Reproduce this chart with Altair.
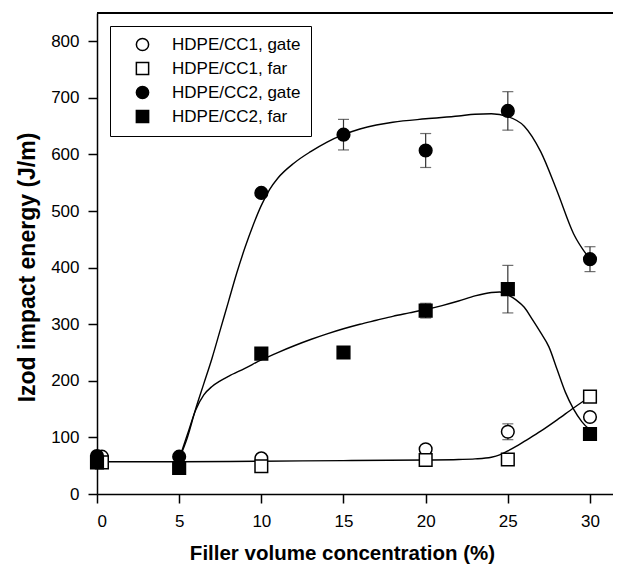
import altair as alt
import pandas as pd

# ---- data ----
series_names = ["HDPE/CC1, gate", "HDPE/CC1, far", "HDPE/CC2, gate", "HDPE/CC2, far"]

cc1_gate_x = [0.3, 10, 20, 25, 30]
cc1_gate_y = [66, 63, 79, 110, 136]
cc1_gate_err = [0, 0, 0, 14, 0]

cc1_far_x = [0.3, 10, 20, 25, 30]
cc1_far_y = [56, 49, 60, 61, 172]
cc1_far_err = [0, 0, 0, 0, 0]

cc2_gate_x = [0, 5, 10, 15, 20, 25, 30]
cc2_gate_y = [67, 66, 532, 635, 607, 677, 415]
cc2_gate_err = [0, 0, 0, 27, 30, 34, 22]

cc2_far_x = [0, 5, 10, 15, 20, 25, 30]
cc2_far_y = [56, 46, 248, 250, 324, 362, 106]
cc2_far_err = [0, 0, 0, 0, 13, 42, 10]

# fitted curves
fit_cc1_x = [0, 5, 10, 15, 20, 22, 23, 24, 24.5, 25, 25.5, 26, 27, 28, 29, 30]
fit_cc1_y = [57, 57, 58, 59, 60, 61, 62, 65, 69, 76, 84, 93, 111, 131, 152, 172]

fit_gate_x = [5, 5.5, 6, 6.5, 7, 7.5, 8, 8.5, 9, 9.5, 10, 10.5, 11, 12, 13, 14, 15, 16, 17,
              18, 20, 22, 23, 24, 25, 26, 27, 28, 29, 30]
fit_gate_y = [62, 100, 150, 195, 240, 290, 340, 390, 435, 475, 510, 538, 558, 585, 605, 622,
              635, 645, 652, 657, 663, 668, 671, 672, 667, 650, 605, 535, 460, 415]

fit_far_x = [5, 5.5, 6, 6.5, 7, 7.5, 8, 9, 10, 11, 12, 13, 14, 15, 16, 17, 18, 19, 20, 21,
             22, 23, 24, 24.5, 25, 25.5, 26, 26.5, 27, 27.5, 28, 28.5, 29, 29.5, 30]
fit_far_y = [62, 105, 148, 175, 190, 200, 208, 222, 237, 250, 262, 273, 283, 292, 300, 307,
             314, 320, 326, 333, 341, 350, 356, 357, 352, 343, 330, 308, 285, 260, 220, 180,
             150, 128, 113]

x_ticks = [0, 5, 10, 15, 20, 25, 30]
y_ticks = [0, 100, 200, 300, 400, 500, 600, 700, 800]

# ---- tables ----
rows = []
for name, xs, ys, es in [
    (series_names[0], cc1_gate_x, cc1_gate_y, cc1_gate_err),
    (series_names[1], cc1_far_x, cc1_far_y, cc1_far_err),
    (series_names[2], cc2_gate_x, cc2_gate_y, cc2_gate_err),
    (series_names[3], cc2_far_x, cc2_far_y, cc2_far_err),
]:
    for x, y, e in zip(xs, ys, es):
        rows.append({"series": name, "x": x, "y": y, "lo": y - e, "hi": y + e, "err": e})
pts = pd.DataFrame(rows)
pts["order"] = range(len(pts))
errs = pts[pts["err"] > 0]

fit_rows = []
for cname, xs, ys in [("cc1", fit_cc1_x, fit_cc1_y), ("gate", fit_gate_x, fit_gate_y),
                      ("far", fit_far_x, fit_far_y)]:
    for x, y in zip(xs, ys):
        fit_rows.append({"curve": cname, "x": x, "y": y})
fits = pd.DataFrame(fit_rows)

FONT = "Liberation Sans"

xscale = alt.Scale(domain=[0, 31.4], nice=False, zero=False)
yscale = alt.Scale(domain=[0, 850], nice=False)

x_axis = alt.Axis(
    values=x_ticks, title="Filler volume concentration (%)", grid=False,
    tickSize=9, labelPadding=10, labelFontSize=17, labelFont=FONT, labelColor="black",
    domainColor="black", domainWidth=1.5, tickColor="black", tickWidth=1.5,
    titleFont=FONT, titleFontSize=20.5, titleFontWeight="bold", titleColor="black",
    titleX=245, titleY=65, titleBaseline="alphabetic", titleAnchor="middle",
)
y_axis = alt.Axis(
    values=y_ticks, title="Izod impact energy (J/m)", grid=False,
    tickSize=9, labelPadding=9, labelFontSize=17, labelFont=FONT, labelColor="black",
    domainColor="black", domainWidth=1.5, tickColor="black", tickWidth=1.5,
    titleFont=FONT, titleFontSize=23, titleFontWeight="bold", titleColor="black",
    titleX=-63, titleY=254, titleBaseline="alphabetic", titleAnchor="middle", titleAngle=-90,
)

X = alt.X("x:Q", scale=xscale, axis=x_axis)
Y = alt.Y("y:Q", scale=yscale, axis=y_axis)

curves = alt.Chart(fits).mark_line(
    interpolate="monotone", color="black", strokeWidth=1.4
).encode(x=X, y=Y, detail="curve:N")

err_rule = alt.Chart(errs).mark_rule(color="#333333", strokeWidth=1.2).encode(
    x=alt.X("x:Q", scale=xscale), y=alt.Y("lo:Q", scale=yscale), y2="hi:Q"
)
cap_lo = alt.Chart(errs).mark_tick(orient="horizontal", size=11, thickness=1.2, color="#333333").encode(
    x=alt.X("x:Q", scale=xscale), y=alt.Y("lo:Q", scale=yscale)
)
cap_hi = alt.Chart(errs).mark_tick(orient="horizontal", size=11, thickness=1.2, color="#333333").encode(
    x=alt.X("x:Q", scale=xscale), y=alt.Y("hi:Q", scale=yscale)
)

legend = alt.Legend(
    title=None, orient="none", legendX=13, legendY=13,
    strokeColor="black", fillColor="white", padding=10,
    symbolStrokeWidth=1.5, symbolSize=150,
    labelFont=FONT, labelFontSize=17, labelColor="black",
    rowPadding=5, symbolOffset=14, labelOffset=21,
)

points = alt.Chart(pts).mark_point(
    strokeWidth=1.5, opacity=1, fillOpacity=1, size=160
).encode(
    x=X, y=Y,
    shape=alt.Shape("series:N", scale=alt.Scale(domain=series_names,
                    range=["circle", "square", "circle", "square"]), legend=legend),
    fill=alt.Fill("series:N", scale=alt.Scale(domain=series_names,
                  range=["white", "white", "black", "black"]), legend=legend),
    stroke=alt.Stroke("series:N", scale=alt.Scale(domain=series_names,
                      range=["black", "black", "black", "black"]), legend=legend),
    order="order:Q",
)

top_frame = alt.Chart(pts).mark_rule(color="black", strokeWidth=1.5).encode(y=alt.value(0))

chart = alt.layer(top_frame, curves, err_rule, cap_lo, cap_hi, points).properties(
    width=516, height=481,
    autosize=alt.AutoSizeParams(type="none"),
    padding={"left": 89, "top": 5, "right": 0, "bottom": 70},
).configure_view(stroke=None).configure(background="white")

chart.save("out.html", embed_options={"renderer": "svg", "actions": False})
